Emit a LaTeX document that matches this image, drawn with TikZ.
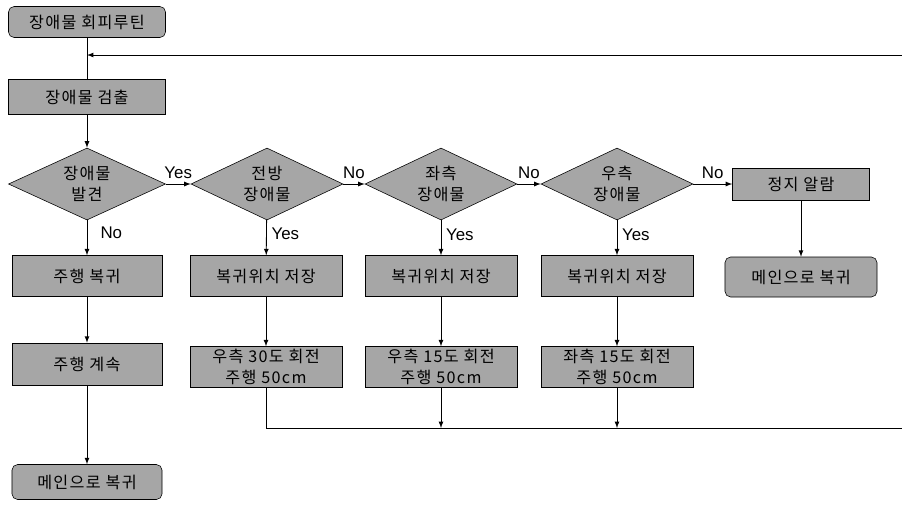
\documentclass[tikz,border=0pt]{standalone}
\usepackage{fontspec}
\setmainfont{Liberation Sans}
\newfontfamily\kor[LetterSpace=8]{Noto Sans CJK KR}
\usetikzlibrary{shapes.geometric}
\tikzset{
  box/.style={rectangle,draw,fill=gray!70,font=\kor\fontsize{11.5}{15}\selectfont,align=center,inner sep=0pt,minimum width=3.8cm,minimum height=1.02cm},
  rbox/.style={box,rounded corners=4pt},
  cond/.style={diamond,draw,fill=gray!70,font=\kor\fontsize{11.5}{15}\selectfont,align=center,inner sep=0pt,aspect=2.2,minimum width=3.8cm,minimum height=1.8cm},
  lbl/.style={font=\fontsize{12}{14}\selectfont},
  line/.style={line width=0.6pt}
}
\begin{document}
\begin{tikzpicture}[x=0.025cm,y=-0.025cm]
        \useasboundingbox (0,0) rectangle (902,509);
        % top column
        \node[rbox,minimum width=3.925cm,minimum height=0.775cm](start)at(87,22){장애물 회피루틴};
        \node[box,minimum width=3.925cm,minimum height=0.875cm](detect)at(87,97){장애물 검출};
        \node[cond,minimum width=3.925cm](find)at(87,184){장애물\\발견};
        \node[cond](front)at(267,184){전방\\장애물};
        \node[cond](left)at(441,184){좌측\\장애물};
        \node[cond](right)at(617,184){우측\\장애물};
        \node[box,minimum width=3.425cm,minimum height=0.8cm](alarm)at(801,184){정지 알람};
        % second row
        \node[box,minimum width=3.75cm](resume)at(87,276){주행 복귀};
        \node[box](save1)at(266,276){복귀위치 저장};
        \node[box](save2)at(441,276){복귀위치 저장};
        \node[box](save3)at(617,276){복귀위치 저장};
        \node[rbox,minimum height=1cm](main2)at(801,277){메인으로 복귀};
        % third row
        \node[box,minimum width=3.75cm,minimum height=1.05cm](cont)at(87,364){주행 계속};
        \node[box](turn1)at(266,367){우측 30도 회전\\주행 50cm};
        \node[box](turn2)at(441,367){우측 15도 회전\\주행 50cm};
        \node[box](turn3)at(617,367){좌측 15도 회전\\주행 50cm};
        \node[rbox,minimum width=3.75cm,minimum height=0.875cm](main1)at(87,482){메인으로 복귀};
        \coordinate(ret)at(902,55);
        \coordinate(back)at(902,428);

        \draw[line](start)--(detect);
        \draw[line,-latex](ret)--(ret-|start);
        \draw[line,-latex](detect)--(find);
        \draw[line,-latex](find)--node[lbl,above]{Yes}(front);
        \draw[line,-latex](front)--node[lbl,above]{No}(left);
        \draw[line,-latex](left)--node[lbl,above]{No}(right);
        \draw[line,-latex](right)--node[lbl,above]{No}(alarm);
        \draw[line,-latex](find)--node[lbl,right,pos=0.35,xshift=6pt]{No}(resume);
        \draw[line,-latex](front)--node[lbl,right,pos=0.4]{Yes}(save1);
        \draw[line,-latex](left)--node[lbl,right,pos=0.4]{Yes}(save2);
        \draw[line,-latex](right)--node[lbl,right,pos=0.4]{Yes}(save3);
        \draw[line,-latex](alarm)--(main2);
        \draw[line,-latex](resume)--(cont);
        \draw[line,-latex](cont)--(main1);
        \draw[line,-latex](save1)--(turn1);
        \draw[line,-latex](save2)--(turn2);
        \draw[line,-latex](save3)--(turn3);
        \draw[line](turn1)|-(back);
        \draw[line,-latex](turn2)--(turn2|-back);
        \draw[line,-latex](turn3)--(turn3|-back);
    \end{tikzpicture}
\end{document}
